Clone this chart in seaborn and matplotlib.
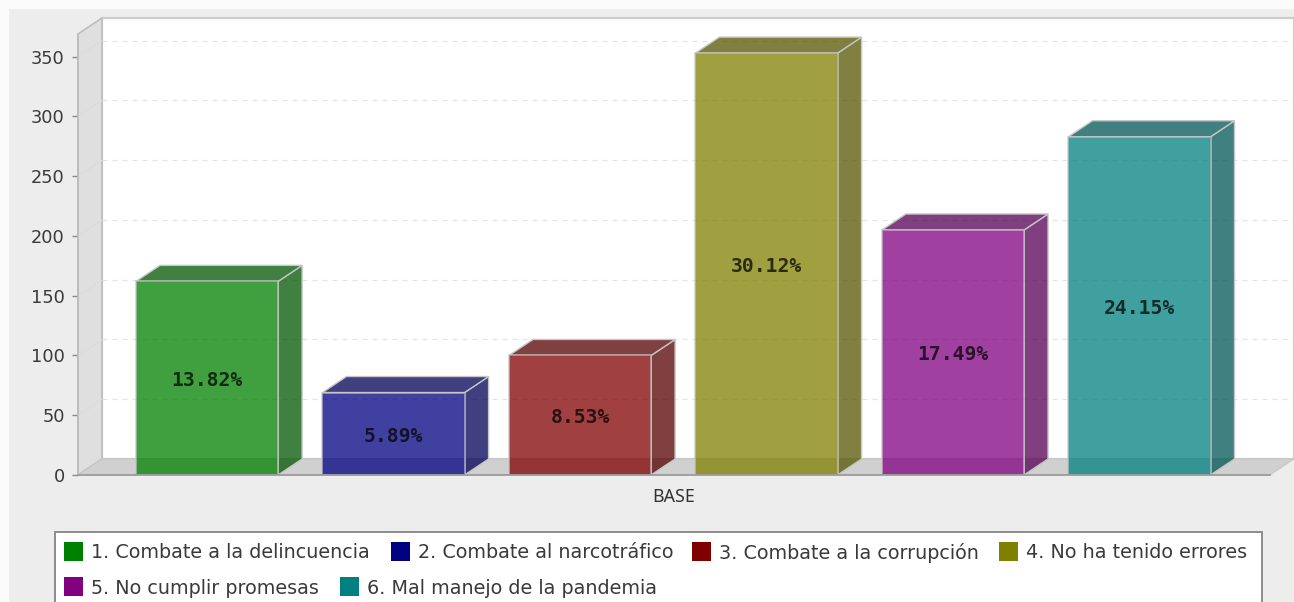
#Recreation of the BASE bar chart with fake 3D boxes
import matplotlib
matplotlib.use("Agg")
import matplotlib.pyplot as plt
from matplotlib.colors import to_rgb
from matplotlib.patches import Polygon, Rectangle
import pandas as pd
import seaborn as sns

# Chart data
CATEGORIES = ["1. Combate a la delincuencia", "2. Combate al narcotráfico", "3. Combate a la corrupción",
              "4. No ha tenido errores", "5. No cumplir promesas", "6. Mal manejo de la pandemia"]
VALUES = [162, 69, 100, 353, 205, 283]
PERCENT_LABELS = ["13.82%", "5.89%", "8.53%", "30.12%", "17.49%", "24.15%"]
COLORS = ["#008000", "#000080", "#800000", "#808000", "#800080", "#008080"]
Y_TICKS = [0, 50, 100, 150, 200, 250, 300, 350]
X_LABEL = "BASE"

W, H = 1294, 602
X_MIN, X_MAX = -0.692, 5.70
Y_MAX = 369
DX = 24 / 186.4  # depth of the fake 3D in data units
DY = 16 / 1.194
PANEL = "#ededed"


def px_x(x):
    return x / W


def px_y(y):
    return 1 - y / H


def draw_walls(ax):
    """Back wall, left wall, floor and the grid that runs across them."""
    ax.add_patch(Rectangle((X_MIN + DX, DY), X_MAX - X_MIN, Y_MAX, facecolor="white", edgecolor="#cccccc",
                           linewidth=1.6, clip_on=False, zorder=0))
    ax.add_patch(Polygon([(X_MIN, 0), (X_MIN + DX, DY), (X_MIN + DX, Y_MAX + DY), (X_MIN, Y_MAX)],
                         facecolor="#dfdfdf", edgecolor="#bdbdbd", linewidth=1.2, clip_on=False, zorder=0.5))
    ax.add_patch(Polygon([(X_MIN, 0), (X_MIN + DX, DY), (X_MAX + DX, DY), (X_MAX, 0)],
                         facecolor="#d0d0d0", edgecolor="#c8c8c8", linewidth=0.8, clip_on=False, zorder=0.5))
    for t in Y_TICKS[1:]:
        ax.plot([X_MIN + DX, X_MAX + DX], [t + DY, t + DY], color="#e4e4e4", linewidth=0.9, linestyle=(0, (4, 4)),
                clip_on=False, zorder=0.6)
        ax.plot([X_MIN, X_MIN + DX], [t, t + DY], color="#d8d8d8", linewidth=0.7, linestyle=(0, (2, 2)),
                clip_on=False, zorder=0.6)


def draw_box_sides(ax):
    """Adds the top and right faces on every bar seaborn drew."""
    for bar, color, label in zip(ax.patches, COLORS, PERCENT_LABELS):
        x0 = bar.get_x()
        x1 = x0 + bar.get_width()
        top = bar.get_height()
        dark = tuple(c * 0.67 for c in to_rgb(color))
        side = [(x1, 0), (x1 + DX, DY), (x1 + DX, top + DY), (x1, top)]
        lid = [(x0, top), (x0 + DX, top + DY), (x1 + DX, top + DY), (x1, top)]
        for face in (side, lid):
            ax.add_patch(Polygon(face, facecolor=dark + (0.75,), edgecolor="#c6c6c6", linewidth=1.0,
                                 clip_on=False, zorder=2))
        ax.text(x0 + bar.get_width() / 2, top / 2 - 2, label, ha="center", va="center", fontsize=14.2,
                family="DejaVu Sans Mono", fontweight="bold", zorder=4,
                color=tuple(c * 0.2 + 0.07 for c in to_rgb(color)))


def draw_legend(fig):
    """Legend rows are not aligned in columns, so each entry gets its own place."""
    fig.add_artist(Rectangle((px_x(55), px_y(640)), 1207 / W, 108 / H, transform=fig.transFigure,
                             facecolor="white", edgecolor="#8c8c8c", linewidth=1.4))
    places = [(64, 552), (391, 552), (692, 552), (999, 552), (64, 587), (340, 587)]
    for (x, y), name, color in zip(places, CATEGORIES, COLORS):
        fig.add_artist(Rectangle((px_x(x), px_y(y + 9)), 19 / W, 19 / H, transform=fig.transFigure,
                                 facecolor=color, edgecolor="none"))
        fig.text(px_x(x + 27), px_y(y + 1), name, ha="left", va="center", fontsize=13.8, color="#3a3a3a",
                 family="DejaVu Sans")


def main():
    sns.set_theme(style="white")
    plt.rcParams["font.family"] = ["DejaVu Sans"]

    data = pd.DataFrame({"category": CATEGORIES, "value": VALUES})
    fig = plt.figure(figsize=(W / 100, H / 100), dpi=100, facecolor="#fbfbfb")
    fig.add_artist(Rectangle((px_x(9), 0), 1, px_y(9), transform=fig.transFigure, facecolor=PANEL,
                             edgecolor="none", zorder=-1))

    ax = fig.add_axes([px_x(78), px_y(475), px_x(1270) - px_x(78), px_y(34) - px_y(475)])
    ax.patch.set_visible(False)
    sns.barplot(data=data, x="category", y="value", hue="category", palette=COLORS, width=0.762, alpha=0.75,
                edgecolor="#c6c6c6", linewidth=1.2, legend=False, saturation=1, zorder=3, ax=ax)
    draw_walls(ax)
    draw_box_sides(ax)

    ax.set_xlim(X_MIN, X_MAX)
    ax.set_ylim(0, Y_MAX)
    ax.set_yticks(Y_TICKS)
    ax.set_xticks([])
    ax.set_xlabel("")
    ax.set_ylabel("")
    ax.tick_params(axis="y", left=True, length=4.5, width=1, color="#8a8a8a", labelsize=12.8, labelcolor="#3a3a3a",
                   pad=5)
    for name in ("top", "right"):
        ax.spines[name].set_visible(False)
    ax.spines["left"].set_color("#bdbdbd")
    ax.spines["bottom"].set_color("#9a9a9a")
    ax.spines["left"].set_zorder(1)
    ax.spines["bottom"].set_zorder(5)

    fig.text(px_x(674), px_y(497), X_LABEL, ha="center", va="center", fontsize=12.8, color="#333333",
             family="Noto Sans")
    draw_legend(fig)
    fig.savefig("out.png", dpi=100, facecolor=fig.get_facecolor())


if __name__ == "__main__":
    main()
